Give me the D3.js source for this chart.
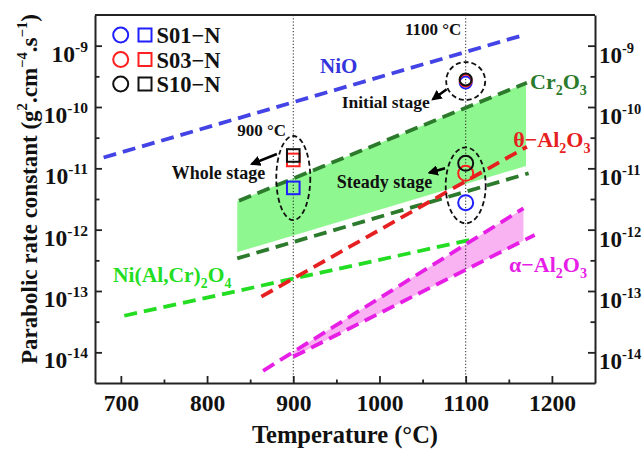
<!DOCTYPE html>
<html>
<head>
<meta charset="utf-8">
<script src="https://cdn.jsdelivr.net/npm/d3@7"></script>
<style>
  body { margin: 0; background: #fff; }
  text { font-family: "Liberation Serif", "Times New Roman", serif; font-weight: bold; }
</style>
</head>
<body>
<div id="chart"></div>
<script>
// axis ticks
const xTicks = [700, 800, 900, 1000, 1100, 1200];
const xMinor = [750, 850, 950, 1050, 1150];
const yExps = [-9, -10, -11, -12, -13, -14];
const yMinorExps = [-9.5, -10.5, -11.5, -12.5, -13.5];

// literature lines (temperature in °C, kp in g2.cm-4.s-1)
const nioT = [680, 1170], nioK = [1.5e-11, 1.53e-9];
const cr2o3UpT = [837, 1171], cr2o3UpK = [2.96e-12, 2.49e-10];
const cr2o3LoT = [835, 1173], cr2o3LoK = [3.4e-13, 8.3e-12];
const cr2o3BandT = [835, 1170], cr2o3BandTop = [2.9e-12, 2.45e-10], cr2o3BandBot = [4.3e-13, 1.09e-11];
const thetaT = [863, 1171], thetaK = [8.1e-14, 2.25e-11];
const spinelT = [704, 1105], spinelK = [3.95e-14, 6.8e-13];
const alphaUpT = [865, 1167], alphaUpK = [5.0e-15, 2.23e-12];
const alphaLoT = [900, 1180], alphaLoK = [8.45e-15, 8.2e-13];
const alphaBandT = [900, 1167], alphaBandTop = [1.02e-14, 2.23e-12], alphaBandBot = [8.45e-15, 6.6e-13];

// measured samples
const samples = ['S01\u2212N', 'S03\u2212N', 'S10\u2212N'];
const sampleColors = ['#1f1fff', '#ff1f1f', '#111111'];
const whole900 = [4.8e-12, 1.37e-11, 1.62e-11];
const initial1100 = [2.5e-10, 2.7e-10, 2.8e-10];
const steady1100 = [2.75e-12, 8.3e-12, 1.21e-11];

const W = 643, H = 455;
const L = 95, R = 595, T = 15, B = 383;

const svg = d3.select('#chart').append('svg')
    .attr('width', W)
    .attr('height', H);
svg.append('rect').attr('width', W).attr('height', H).attr('fill', '#fff');

const x = d3.scaleLinear().domain([670, 1250]).range([L, R]);
const y = d3.scaleLog().domain([Math.pow(10, -14.5), Math.pow(10, -8.5)]).range([B, T]);

const defs = svg.append('defs');
defs.append('marker')
    .attr('id', 'arr')
    .attr('viewBox', '0 0 10 10')
    .attr('refX', 8).attr('refY', 5)
    .attr('markerWidth', 4).attr('markerHeight', 4)
    .attr('orient', 'auto')
    .append('path').attr('d', 'M0,0 L10,5 L0,10 Z').attr('fill', '#000');

const line = d3.line().x(d => x(d[0])).y(d => y(d[1]));
const zip = (a, b) => a.map((v, i) => [v, b[i]]);

// bands
const band = (ts, top, bot, fill) => {
    const pts = zip(ts, top).concat(zip(ts, bot).reverse());
    svg.append('path').attr('d', line(pts) + 'Z').attr('fill', fill);
};
band(cr2o3BandT, cr2o3BandTop, cr2o3BandBot, '#8ff78f');
band(alphaBandT, alphaBandTop, alphaBandBot, '#f9b2f2');

// dotted guides at 900 and 1100
[900, 1100].forEach(t => {
    svg.append('line')
        .attr('x1', x(t)).attr('x2', x(t))
        .attr('y1', T).attr('y2', B)
        .attr('stroke', '#222').attr('stroke-width', 1)
        .attr('stroke-dasharray', '1.2,2');
});

const series = [
    { t: nioT, k: nioK, c: '#4343e6' },
    { t: cr2o3UpT, k: cr2o3UpK, c: '#2c7a2c' },
    { t: cr2o3LoT, k: cr2o3LoK, c: '#2c7a2c' },
    { t: spinelT, k: spinelK, c: '#22dd22' },
    { t: thetaT, k: thetaK, c: '#e62020' },
    { t: alphaUpT, k: alphaUpK, c: '#e61ee6' },
    { t: alphaLoT, k: alphaLoK, c: '#e61ee6' }
];
series.forEach(s => {
    svg.append('path')
        .attr('d', line(zip(s.t, s.k)))
        .attr('fill', 'none')
        .attr('stroke', s.c)
        .attr('stroke-width', 3.8)
        .attr('stroke-dasharray', '13,7');
});

// dashed ellipses (center T, center kp, rx, ry in px)
const ellipses = [[900, 6.95e-12, 17, 42], [1100, 2.65e-10, 19.5, 19], [1100, 5.28e-12, 20, 38]];
ellipses.forEach(e => {
    svg.append('ellipse')
        .attr('cx', x(e[0])).attr('cy', y(e[1]))
        .attr('rx', e[2]).attr('ry', e[3])
        .attr('fill', 'none').attr('stroke', '#111')
        .attr('stroke-width', 1.8).attr('stroke-dasharray', '5,3');
});

// arrows
const arrows = [
    [[881, 1.71e-11], [852, 1.18e-11]],
    [[1078, 1.95e-10], [1062, 1.34e-10]],
    [[1076, 1.0e-11], [1058, 8.5e-12]]
];
arrows.forEach(a => {
    svg.append('line')
        .attr('x1', x(a[0][0])).attr('y1', y(a[0][1]))
        .attr('x2', x(a[1][0])).attr('y2', y(a[1][1]))
        .attr('stroke', '#000').attr('stroke-width', 2.6)
        .attr('marker-end', 'url(#arr)');
});

// measured points
samples.forEach((s, i) => {
    svg.append('rect')
        .attr('x', x(900) - 6.3).attr('y', y(whole900[i]) - 6.3)
        .attr('width', 12.6).attr('height', 12.6)
        .attr('fill', 'none').attr('stroke', sampleColors[i]).attr('stroke-width', 2);
    svg.append('circle')
        .attr('cx', x(1100)).attr('cy', y(initial1100[i])).attr('r', 6)
        .attr('fill', 'none').attr('stroke', sampleColors[i]).attr('stroke-width', 2);
    svg.append('circle')
        .attr('cx', x(1100)).attr('cy', y(steady1100[i])).attr('r', 7.5)
        .attr('fill', 'none').attr('stroke', sampleColors[i]).attr('stroke-width', 2);
});

// rich text helper: parts = [[text, 'n' | 'sub' | 'sup']]
const rich = (sel, parts, size) => {
    let shift = 0;
    parts.forEach(([s, kind]) => {
        const target = kind === 'sub' ? size * 0.28 : kind === 'sup' ? -size * 0.42 : 0;
        sel.append('tspan')
            .attr('dy', target - shift)
            .attr('font-size', kind === 'n' ? size : size * 0.64)
            .text(s);
        shift = target;
    });
};

const label = (t, k, color, size, parts) => {
    const el = svg.append('text')
        .attr('x', x(t)).attr('y', y(k))
        .attr('fill', color).attr('font-size', size);
    rich(el, parts, size);
};
label(931, Math.pow(10, -9.441), '#3434dd', 21, [['NiO', 'n']]);
label(1174.6, Math.pow(10, -9.707), '#2c7a2c', 22, [['Cr', 'n'], ['2', 'sub'], ['O', 'n'], ['3', 'sub']]);
label(1155.2, Math.pow(10, -10.647), '#e62020', 22, [['\u03b8\u2212Al', 'n'], ['2', 'sub'], ['O', 'n'], ['3', 'sub']]);
label(1150.2, Math.pow(10, -12.685), '#e61ee6', 22, [['\u03b1\u2212Al', 'n'], ['2', 'sub'], ['O', 'n'], ['3', 'sub']]);
label(690.9, Math.pow(10, -12.853), '#22dd22', 21.5, [['Ni(Al,Cr)', 'n'], ['2', 'sub'], ['O', 'n'], ['4', 'sub']]);
label(835, Math.pow(10, -10.473), '#111', 17, [['900 \u00b0C', 'n']]);
label(1029.6, Math.pow(10, -8.826), '#111', 17, [['1100 \u00b0C', 'n']]);
label(759, Math.pow(10, -11.174), '#111', 18, [['Whole stage', 'n']]);
label(956.2, Math.pow(10, -10.016), '#111', 17.5, [['Initial stage', 'n']]);
label(950.4, Math.pow(10, -11.321), '#111', 18, [['Steady stage', 'n']]);

// legend
samples.forEach((s, i) => {
    const cy = 35 + i * 24.5;
    svg.append('circle').attr('cx', 120.7).attr('cy', cy).attr('r', 7.5)
        .attr('fill', 'none').attr('stroke', sampleColors[i]).attr('stroke-width', 2);
    svg.append('rect').attr('x', 138.5).attr('y', cy - 6.5).attr('width', 13).attr('height', 13)
        .attr('fill', 'none').attr('stroke', sampleColors[i]).attr('stroke-width', 2);
    svg.append('text').attr('x', 156.5).attr('y', cy + 8.3)
        .attr('font-size', 22.5).attr('fill', '#111').text(s);
});

// axes
const styleAxis = g => {
    g.select('.domain').attr('stroke', '#222').attr('stroke-width', 2);
    g.selectAll('.tick line').attr('stroke', '#222').attr('stroke-width', 1.8);
};
svg.append('line').attr('x1', L).attr('x2', R).attr('y1', T).attr('y2', T)
    .attr('stroke', '#222').attr('stroke-width', 2);

const xAxis = svg.append('g').attr('transform', `translate(0,${B})`)
    .call(d3.axisBottom(x).tickValues(xTicks).tickSize(-7).tickSizeOuter(0)
        .tickPadding(11).tickFormat(d3.format('d')))
    .call(styleAxis);
xAxis.selectAll('.tick text').attr('font-size', 23.5).attr('fill', '#111')
    .attr('font-family', '"Liberation Serif", serif');
svg.append('g').attr('transform', `translate(0,${B})`)
    .call(d3.axisBottom(x).tickValues(xMinor).tickSize(-3.5).tickFormat(''))
    .call(styleAxis).select('.domain').remove();

const yMajor = yExps.map(e => Math.pow(10, e));
const yMinor = yMinorExps.map(e => Math.pow(10, e));
[[L, d3.axisLeft], [R, d3.axisRight]].forEach(([px, ax]) => {
    svg.append('g').attr('transform', `translate(${px},0)`)
        .call(ax(y).tickValues(yMajor).tickSize(-7).tickSizeOuter(0).tickFormat(''))
        .call(styleAxis);
    svg.append('g').attr('transform', `translate(${px},0)`)
        .call(ax(y).tickValues(yMinor).tickSize(-4.5).tickFormat(''))
        .call(styleAxis).select('.domain').remove();
});

yExps.forEach(e => {
    const v = Math.pow(10, e);
    const lt = svg.append('text').attr('x', L - 7).attr('y', y(v) + 16)
        .attr('text-anchor', 'end').attr('font-size', 23.5).attr('fill', '#111');
    lt.append('tspan').text('10');
    lt.append('tspan').attr('dy', -10).attr('font-size', 15.5).text(String(e));
    const rt = svg.append('text').attr('x', R + 4).attr('y', y(v) + 17)
        .attr('font-size', 23).attr('fill', '#111');
    rt.append('tspan').text('10');
    rt.append('tspan').attr('dy', -10).attr('font-size', 14.5).text(String(e));
});

// axis titles
svg.append('text').attr('x', (L + R) / 2).attr('y', 443)
    .attr('text-anchor', 'middle').attr('font-size', 24.5).attr('fill', '#111')
    .text('Temperature (\u00b0C)');
const yt = svg.append('text')
    .attr('transform', 'translate(37,189) rotate(-90)')
    .attr('text-anchor', 'middle').attr('font-size', 23).attr('fill', '#111');
rich(yt, [['Parabolic rate constant (g', 'n'], ['2', 'sup'], ['.cm', 'n'], ['\u22124', 'sup'],
    ['.s', 'n'], ['\u22121', 'sup'], [')', 'n']], 23);
</script>
</body>
</html>
